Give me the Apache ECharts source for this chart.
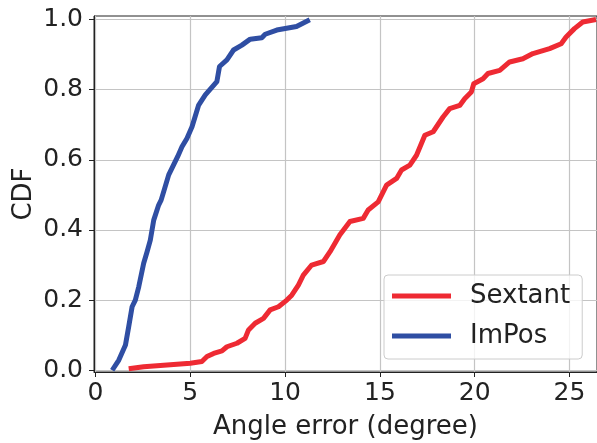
<!DOCTYPE html>
<html>
<head>
<meta charset="utf-8">
<script src="https://cdn.jsdelivr.net/npm/echarts@6/dist/echarts.min.js"></script>
<style>
html,body{margin:0;padding:0;background:#fff;}
#chart{width:597px;height:443px;}
</style>
</head>
<body>
<div id="chart"></div>
<script>
const seriesNames = ['Sextant', 'ImPos'];
const xTicks = [0, 5, 10, 15, 20, 25];
const yTicks = [0, 0.2, 0.4, 0.6, 0.8, 1.0];

const sextantAngle = [1.75, 2.54, 5.0, 5.61, 5.88, 6.23, 6.67, 6.93, 7.46, 7.89, 8.07, 8.42, 8.86, 9.21, 9.65, 10.09, 10.35, 10.7, 10.96, 11.4, 12.02, 12.37, 12.89, 13.42, 14.12, 14.38, 14.91, 15.35, 15.88, 16.14, 16.58, 16.93, 17.37, 17.81, 18.33, 18.68, 19.21, 19.47, 19.82, 19.95, 20.44, 20.7, 21.32, 21.84, 22.54, 23.07, 23.95, 24.56, 24.82, 25.26, 25.7, 26.4];
const sextantCdf = [0.004, 0.010, 0.020, 0.025, 0.039, 0.048, 0.055, 0.067, 0.077, 0.091, 0.115, 0.134, 0.148, 0.172, 0.181, 0.200, 0.214, 0.243, 0.271, 0.300, 0.310, 0.338, 0.386, 0.424, 0.433, 0.457, 0.480, 0.528, 0.547, 0.571, 0.585, 0.613, 0.670, 0.680, 0.722, 0.746, 0.755, 0.774, 0.793, 0.817, 0.831, 0.846, 0.855, 0.879, 0.888, 0.903, 0.917, 0.931, 0.950, 0.974, 0.993, 1.0];

const imposAngle = [0.88, 1.23, 1.58, 1.75, 1.93, 2.1, 2.28, 2.54, 2.72, 2.89, 3.07, 3.33, 3.46, 3.6, 3.86, 4.33, 4.56, 4.82, 5.09, 5.44, 5.79, 6.4, 6.54, 6.93, 7.28, 7.72, 8.16, 8.77, 8.95, 9.56, 10.6, 11.3];
const imposCdf = [0.0, 0.029, 0.072, 0.124, 0.181, 0.200, 0.238, 0.305, 0.338, 0.371, 0.428, 0.471, 0.485, 0.510, 0.557, 0.609, 0.637, 0.661, 0.694, 0.756, 0.785, 0.823, 0.866, 0.885, 0.913, 0.927, 0.944, 0.948, 0.958, 0.970, 0.980, 0.999];

const zip = (a, b) => a.map((v, i) => [v, b[i]]);
const FONT = 'DejaVu Sans';
const TXT = '#222222';

const chart = echarts.init(document.getElementById('chart'), null, {renderer: 'canvas'});
chart.setOption({
  animation: false,
  backgroundColor: '#ffffff',
  textStyle: {fontFamily: FONT},
  grid: {
    left: 94, right: 0, top: 16, bottom: 71,
    containLabel: false, outerBoundsMode: 'none',
    show: true, borderColor: '#222222', borderWidth: 1, backgroundColor: 'transparent'
  },
  legend: {
    orient: 'vertical',
    left: 384, top: 275,
    padding: [8, 12, 10, 8],
    itemGap: 14,
    itemWidth: 59, itemHeight: 5,
    icon: 'rect',
    backgroundColor: 'rgba(255,255,255,0.8)',
    borderColor: '#cccccc', borderWidth: 1, borderRadius: 4,
    textStyle: {fontFamily: FONT, fontSize: 26, color: TXT, padding: [0, 0, 0, 14]},
    data: seriesNames
  },
  xAxis: {
    type: 'value',
    min: -0.08, max: 26.45,
    name: 'Angle error (degree)',
    nameLocation: 'middle', nameGap: 42, nameMoveOverlap: false,
    nameTextStyle: {fontFamily: FONT, fontSize: 26, color: TXT},
    axisLine: {show: true, onZero: false, lineStyle: {color: '#222222', width: 1}},
    axisTick: {show: true, inside: false, length: 5, lineStyle: {color: '#222222'}, customValues: xTicks},
    axisLabel: {fontFamily: FONT, fontSize: 25, color: TXT, margin: 9, customValues: xTicks,
      formatter: v => String(Math.round(v))},
    splitLine: {show: true, lineStyle: {color: '#c4c4c4', width: 1.2}}
  },
  yAxis: {
    type: 'value',
    min: -0.005, max: 1.01,
    name: 'CDF',
    nameLocation: 'middle', nameGap: 57, nameRotate: 90, nameMoveOverlap: false,
    nameTextStyle: {fontFamily: FONT, fontSize: 26, color: TXT},
    axisLine: {show: true, onZero: false, lineStyle: {color: '#222222', width: 1}},
    axisTick: {show: true, inside: false, length: 5, lineStyle: {color: '#222222'}, customValues: yTicks},
    axisLabel: {fontFamily: FONT, fontSize: 25, color: TXT, margin: 11, customValues: yTicks,
      formatter: v => v.toFixed(1)},
    splitLine: {show: true, lineStyle: {color: '#c4c4c4', width: 1.2}}
  },
  series: [
    {
      name: seriesNames[0], type: 'line', data: zip(sextantAngle, sextantCdf),
      showSymbol: false, symbol: 'none', color: '#ee2a33',
      lineStyle: {width: 5, color: '#ee2a33', join: 'round'}
    },
    {
      name: seriesNames[1], type: 'line', data: zip(imposAngle, imposCdf),
      showSymbol: false, symbol: 'none', color: '#2f4ea3',
      lineStyle: {width: 5, color: '#2f4ea3', join: 'round'}
    }
  ]
});
</script>
</body>
</html>
